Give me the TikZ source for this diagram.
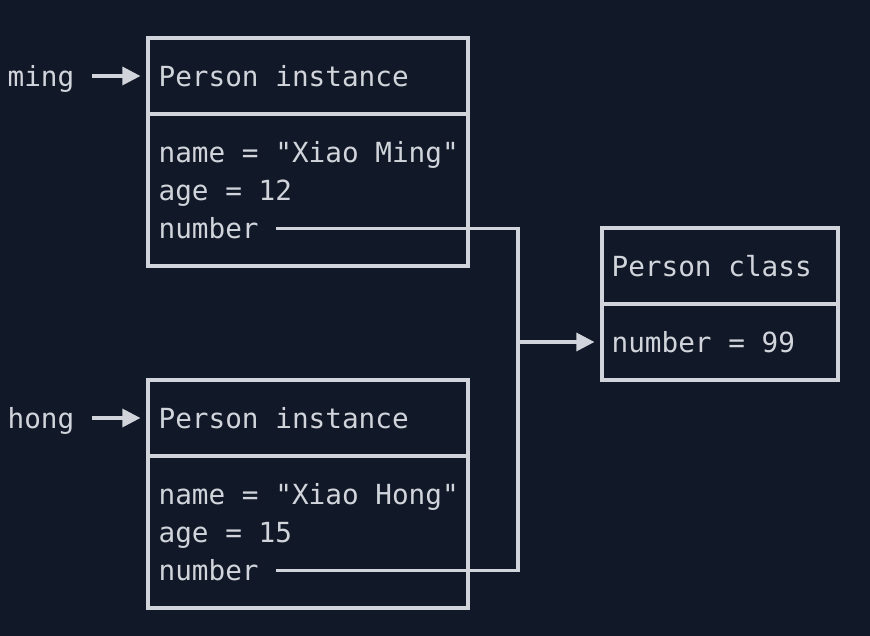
\documentclass[tikz,border=0pt]{standalone}
\usepackage{fontspec}
\setmonofont{DejaVu Sans Mono}
\usetikzlibrary{arrows.meta,positioning}
\definecolor{bg}{HTML}{111827}
\definecolor{fg}{HTML}{D1D5DB}

\begin{document}
\begin{tikzpicture}[x=1pt,y=1pt,line width=3.2pt,color=fg,
    font=\ttfamily\fontsize{27.7}{32}\selectfont]
    \tikzstyle{cell}=[draw=fg,rectangle,inner sep=0pt,minimum width=320pt]
    \tikzstyle{txt}=[anchor=base west,inner sep=0pt,text=fg]
    \tikzstyle{ptr}=[-{Triangle[length=18pt,width=18pt]}]

    \useasboundingbox (0,0) rectangle (870,636);
    \fill[bg] (0,0) rectangle (870,636);

    % the two instances
    \foreach \obj/\dy/\who/\age in {ming/0/Xiao Ming/12, hong/-342/Xiao Hong/15} {
        \begin{scope}[yshift=\dy pt]
            \node[cell,minimum height=76pt] (\obj-head) at (308,560) {};
            \node[cell,minimum height=152pt] (\obj-body) at (308,446) {};
            \node[txt] (\obj-title) at (157,549) {Person instance};
            \node[txt] (\obj-name) at (157,473) {name = "\who"};
            \node[txt] (\obj-age) at (157,435) {age = \age};
            \node[txt] (\obj-num) at (157,397) {number};
            \node[txt] (\obj) at (6,549) {\obj};
            \draw[ptr] ([xshift=16pt]\obj.east |- \obj-head.west) -- ([xshift=-6pt]\obj-head.west);
        \end{scope}
    }

    % the class
    \node[cell,minimum width=236pt,minimum height=76pt] (cls-head) at (720,370) {};
    \node[cell,minimum width=236pt,minimum height=76pt] (cls-body) at (720,294) {};
    \node[txt] (cls-title) at (610,359) {Person class};
    \node[txt] (cls-num) at (610,283) {number = 99};

    \coordinate (join) at (518,294);
    \draw ([xshift=16pt]ming-num.east) -| (join) |- ([xshift=16pt]hong-num.east);
    \draw[ptr] (join) -- ([xshift=-6pt]cls-body.west);
\end{tikzpicture}
\end{document}
